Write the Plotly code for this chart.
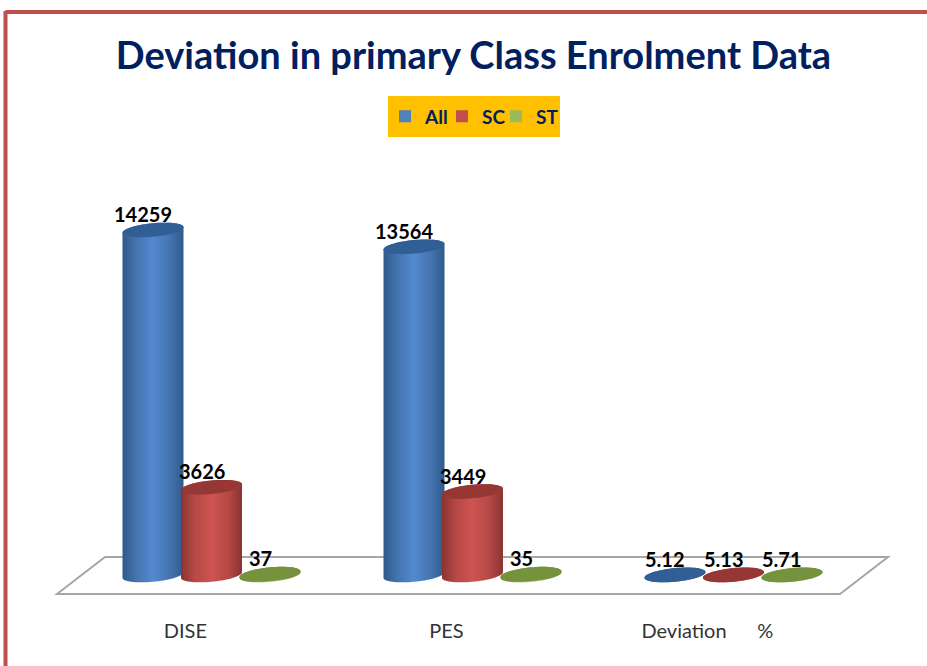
import numpy as np
import plotly.graph_objects as go

W, H = 927, 666
categories = ["DISE", "PES", "Deviation\u00a0\u00a0\u00a0\u00a0\u00a0\u00a0%"]
series_names = ["All", "SC", "ST"]
all_values = [14259, 13564, 5.12]
sc_values = [3626, 3449, 5.13]
st_values = [37, 35, 5.71]
label_texts = [["14259", "13564", "5.12"], ["3626", "3449", "5.13"], ["37", "35", "5.71"]]
series_values = [all_values, sc_values, st_values]

body_scales = [
    [[0, "#2F5A8C"], [0.22, "#4473AE"], [0.5, "#5289D0"], [0.78, "#4473AE"], [1, "#2F5A8C"]],
    [[0, "#8A3432"], [0.22, "#B54845"], [0.5, "#CE5450"], [0.78, "#B54845"], [1, "#8A3432"]],
    [[0, "#6A8535"], [0.5, "#9BBB59"], [1, "#6A8535"]],
]
cap_colors = ["#305E95", "#953735", "#76923C"]
swatch_colors = ["#4F81BD", "#C0504D", "#9BBB59"]
NAVY = "#002060"
FONT = "Lato"

# plot-area geometry (pixels)
L, R, T, B = 81, 864, 170, 617
BASE = 575
PX_PER_UNIT = 345 / 14259
ymin = -(B - BASE) / PX_PER_UNIT
ymax = (BASE - T) / PX_PER_UNIT
PX_PER_CAT = (R - L) / 3
step = 58.5 / PX_PER_CAT
half = 30.5 / PX_PER_CAT
cap_b, cap_tilt = 6.8 / PX_PER_UNIT, 2.8 / PX_PER_UNIT
legend_ids = ["legend", "legend2", "legend3"]
legend_left_px = [385, 442, 496]


def px(x):
    return (x - L) / (R - L)


def py(y):
    return (B - y) / (B - T)


fig = go.Figure()
t = np.linspace(0, 2 * np.pi, 73)
for i, name in enumerate(series_names):
    off = (i - 1) * step
    fig.add_trace(go.Bar(
        x=list(range(3)), y=series_values[i], name=name, width=half * 1.7, offset=off - half * 0.85,
        marker=dict(color=swatch_colors[i], line_width=0), hoverinfo="x+y", legend=legend_ids[i],
    ))
for i, name in enumerate(series_names):
    off = (i - 1) * step
    for c in range(3):
        cx, v = c + off, series_values[i][c]
        # lower half of base ellipse + upper half of top ellipse = cylinder outline
        tb = np.linspace(np.pi, 2 * np.pi, 37)
        tt = np.linspace(0, np.pi, 37)
        bx = cx + half * np.cos(tb)
        by = cap_b * np.sin(tb) + cap_tilt * np.cos(tb)
        ux = cx + half * np.cos(tt)
        uy = v + cap_b * np.sin(tt) + cap_tilt * np.cos(tt)
        fig.add_trace(go.Scatter(
            x=np.r_[bx, ux], y=np.r_[by, uy], mode="none", fill="toself", showlegend=False,
            hoverinfo="skip",
            fillgradient=dict(type="horizontal", colorscale=body_scales[i]),
        ))
        fig.add_trace(go.Scatter(
            x=cx + half * np.cos(t), y=v + cap_b * np.sin(t) + cap_tilt * np.cos(t),
            mode="none", fill="toself", fillcolor=cap_colors[i], showlegend=False, hoverinfo="skip",
        ))
        fig.add_annotation(
            x=cx, y=v, xref="x", yref="y", text=f"<b>{label_texts[i][c]}</b>", showarrow=False,
            xshift=-10, yshift=16, font=dict(family=FONT, size=20, color="#000000"),
        )

floor = [(57, 594), (840, 594), (888, 557), (105, 557)]
floor_path = "M" + " L".join(f"{px(a):.5f},{py(b):.5f}" for a, b in floor) + " Z"
shapes = [
    dict(type="path", xref="paper", yref="paper", path=floor_path, layer="below",
         line=dict(color="#A6A6A6", width=2), fillcolor="#FFFFFF"),
    dict(type="line", xref="paper", yref="paper", x0=px(5.5), x1=px(927), y0=py(12), y1=py(12),
         line=dict(color="#C0504D", width=4)),
    dict(type="line", xref="paper", yref="paper", x0=px(5.5), x1=px(5.5), y0=py(11), y1=py(666),
         line=dict(color="#C0504D", width=4)),
    dict(type="rect", xref="paper", yref="paper", x0=px(388), x1=px(560), y0=py(137), y1=py(96),
         line_width=0, fillcolor="#FFC000"),
]

legend_layouts = {
    lid: dict(orientation="h", x=px(left), xanchor="left", y=py(116.5), yanchor="middle",
              bgcolor="rgba(0,0,0,0)", font=dict(family=FONT, size=19, color=NAVY, weight="bold"),
              itemclick=False, itemdoubleclick=False)
    for lid, left in zip(legend_ids, legend_left_px)
}

fig.update_layout(
    width=W, height=H, autosize=False,
    margin=dict(l=L, r=W - R, t=T, b=H - B, pad=0),
    paper_bgcolor="#FFFFFF", plot_bgcolor="rgba(0,0,0,0)",
    barmode="overlay",
    title=dict(text="<b>Deviation in primary Class Enrolment Data</b>", x=473.5 / W, xanchor="center",
               y=1 - 56 / H, yanchor="middle", font=dict(family=FONT, size=38, color=NAVY)),
    xaxis=dict(range=[-0.5, 2.5], tickmode="array", tickvals=[c - 0.1 for c in range(3)], ticktext=categories,
               showgrid=False, zeroline=False, showline=False, ticks="", fixedrange=True,
               tickfont=dict(family=FONT, size=20, color="#333333")),
    yaxis=dict(range=[ymin, ymax], visible=False, fixedrange=True),
    shapes=shapes,
    showlegend=True,
    **legend_layouts,
)
fig.write_html("out.html", post_script="document.body.style.margin='0';", config={"displayModeBar": False})
